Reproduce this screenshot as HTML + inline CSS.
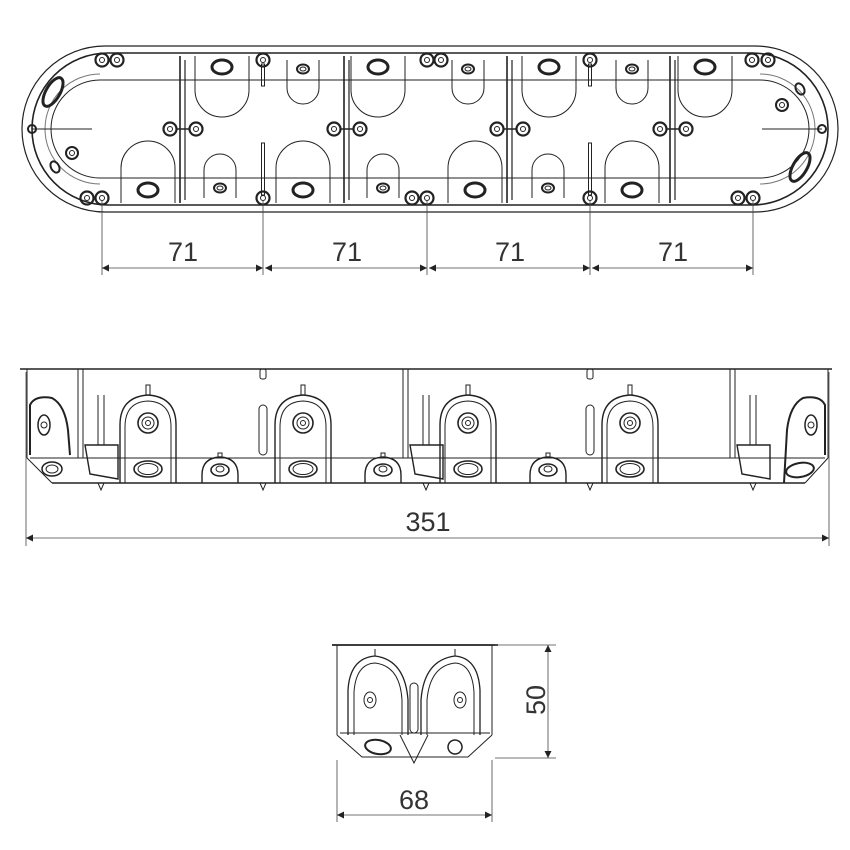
<!DOCTYPE html>
<html><head><meta charset="utf-8"><style>
html,body{margin:0;padding:0;background:#fff}
svg{display:block}
text{font-family:"Liberation Sans",Arial,sans-serif;fill:#333}
</style></head><body>
<svg id="s" width="850" height="850" viewBox="0 0 850 850" xmlns="http://www.w3.org/2000/svg">
<defs>
<marker id="a" viewBox="0 0 10 10" refX="10" refY="5" markerWidth="10" markerHeight="7" orient="auto-start-reverse" markerUnits="userSpaceOnUse"><path d="M0,0L10,5L0,10z" fill="#222"/></marker>
</defs>
<g fill="none" stroke="#222" stroke-width="1">
<path d="M105,46 L755,46 A83,83 0 0 1 755,212 L105,212 A83,83 0 0 1 105,46 Z" stroke-width="1.2"/>
<path d="M108,53 L752,53 A76,76 0 0 1 752,205 L108,205 A76,76 0 0 1 108,53 Z" stroke-width="1.6"/>
<line x1="100" y1="80" x2="760" y2="80"/>
<line x1="100" y1="178" x2="760" y2="178"/>
<path d="M100,80 A49,49 0 0 0 100,178"/>
<path d="M760,80 A49,49 0 0 1 760,178"/>
<path d="M100,74 A55,55 0 0 0 100,184" stroke="#777"/>
<path d="M760,74 A55,55 0 0 1 760,184" stroke="#777"/>
<line x1="32" y1="129" x2="92" y2="129"/>
<line x1="762" y1="129" x2="822" y2="129"/>
<ellipse cx="53" cy="92" rx="7" ry="16" transform="rotate(30 53 92)" stroke-width="3"/>
<ellipse cx="800" cy="167" rx="7" ry="16" transform="rotate(30 800 167)" stroke-width="3"/>
<circle cx="72" cy="153" r="6" stroke-width="2"/><circle cx="72" cy="153" r="2.5"/>
<ellipse cx="55" cy="167" rx="4" ry="6" transform="rotate(-30 55 167)" stroke-width="2"/>
<circle cx="782" cy="105" r="6" stroke-width="2"/><circle cx="782" cy="105" r="2.5"/>
<ellipse cx="800" cy="89" rx="4" ry="6" transform="rotate(-30 800 89)" stroke-width="2"/>
<circle cx="32" cy="129" r="4" stroke-width="2"/>
<circle cx="822" cy="129" r="4" stroke-width="2"/>
<g id="top"></g>
<g stroke="#444" stroke-width="0.8">
<line x1="102" y1="200" x2="102" y2="275"/><line x1="263" y1="200" x2="263" y2="275"/>
<line x1="427" y1="200" x2="427" y2="275"/><line x1="590" y1="200" x2="590" y2="275"/>
<line x1="753" y1="200" x2="753" y2="275"/>
<line x1="102" y1="268" x2="263" y2="268" marker-start="url(#a)" marker-end="url(#a)"/>
<line x1="265" y1="268" x2="427" y2="268" marker-start="url(#a)" marker-end="url(#a)"/>
<line x1="429" y1="268" x2="590" y2="268" marker-start="url(#a)" marker-end="url(#a)"/>
<line x1="592" y1="268" x2="753" y2="268" marker-start="url(#a)" marker-end="url(#a)"/>
</g>
<line x1="20" y1="369" x2="832" y2="369" stroke-width="1.6"/>
<line x1="27" y1="369" x2="27" y2="458"/>
<line x1="828" y1="369" x2="828" y2="458"/>
<line x1="30" y1="458" x2="825" y2="458"/>
<line x1="52" y1="483" x2="805" y2="483" stroke-width="1.4"/>
<path d="M27,458 L52,483 M828,458 L805,483"/>
<g id="side"></g>
<g stroke="#444" stroke-width="0.8">
<line x1="26" y1="372" x2="26" y2="546"/><line x1="829" y1="372" x2="829" y2="546"/>
<line x1="26" y1="538" x2="829" y2="538" marker-start="url(#a)" marker-end="url(#a)"/>
</g>
<line x1="332" y1="645" x2="498" y2="645" stroke-width="1.8"/>
<line x1="337" y1="645" x2="337" y2="735"/><line x1="492" y1="645" x2="492" y2="735"/>
<line x1="340" y1="733" x2="490" y2="733"/>
<path d="M337,735 L362,757 L468,757 L492,735"/>
<path d="M348,735 L348,690 Q350,658 375,656 Q405,660 408,700 L408,735" stroke-width="1.3"/>
<path d="M354,735 L354,692 Q356,664 375,663 Q400,666 402,700 L402,735"/>
<path d="M480,735 L480,690 Q478,658 455,656 Q424,660 421,700 L421,735" stroke-width="1.3"/>
<path d="M474,735 L474,692 Q472,664 455,663 Q430,666 427,700 L427,735"/>
<line x1="375" y1="649" x2="375" y2="656"/><line x1="455" y1="649" x2="455" y2="656"/>
<ellipse cx="370" cy="700" rx="6" ry="8"/><circle cx="370" cy="700" r="2.5"/>
<ellipse cx="460" cy="700" rx="6" ry="8"/><circle cx="460" cy="700" r="2.5"/>
<rect x="410" y="683" width="8" height="50" rx="4"/>
<path d="M400,735 L414,763 L428,735"/>
<ellipse cx="378" cy="747" rx="13" ry="7" transform="rotate(10 378 747)" stroke-width="2"/>
<ellipse cx="455" cy="747" rx="7" ry="7" transform="rotate(-20 455 747)" stroke-width="1.5"/>
<g stroke="#444" stroke-width="0.8">
<line x1="337" y1="760" x2="337" y2="822"/><line x1="492" y1="760" x2="492" y2="822"/>
<line x1="337" y1="815" x2="492" y2="815" marker-start="url(#a)" marker-end="url(#a)"/>
<line x1="495" y1="645" x2="556" y2="645"/><line x1="495" y1="758" x2="556" y2="758"/>
<line x1="548" y1="645" x2="548" y2="758" marker-start="url(#a)" marker-end="url(#a)"/>
</g>
</g>
<g font-size="27">
<text x="183" y="261" text-anchor="middle">71</text>
<text x="347" y="261" text-anchor="middle">71</text>
<text x="510" y="261" text-anchor="middle">71</text>
<text x="673" y="261" text-anchor="middle">71</text>
<text x="428" y="531" text-anchor="middle">351</text>
<text x="414" y="809" text-anchor="middle">68</text>
<text x="0" y="0" text-anchor="middle" transform="translate(545,700) rotate(-90)">50</text>
</g>
</svg>
<script>
var NS="http://www.w3.org/2000/svg";
function el(p,t,a){var e=document.createElementNS(NS,t);for(var k in a)e.setAttribute(k,a[k]);p.appendChild(e);return e;}
var T=document.getElementById('top');
function post(x,y){el(T,'circle',{cx:x,cy:y,r:6.5,'stroke-width':2.2});el(T,'circle',{cx:x,cy:y,r:2.5});}
[183,347,510,673].forEach(function(x){
 el(T,'line',{x1:x-3,y1:56,x2:x-3,y2:203,'stroke-width':1.6});
 el(T,'line',{x1:x+2,y1:60,x2:x+2,y2:200,'stroke-width':1.2});
 post(x-13,129);post(x+13,129);
 el(T,'line',{x1:x-7,y1:129,x2:x+7,y2:129,'stroke-width':1.5});
});
[263,590].forEach(function(x){post(x,60);});
[102,263,427,590,753].forEach(function(x){post(x,198);});
post(87,198);post(102,60);post(117,60);post(738,198);post(752,60);post(768,60);
post(412,198);post(427,60);post(441,60);
[263,590].forEach(function(x){el(T,'rect',{x:x-1.5,y:64,width:3,height:22});el(T,'rect',{x:x-1.5,y:143,width:3,height:52});});
function pocketTop(cx,big){
 if(big){el(T,'path',{d:'M'+(cx-27)+',56 L'+(cx-27)+',90 A27,27 0 0 0 '+(cx+27)+',90 L'+(cx+27)+',56'});
  el(T,'ellipse',{cx:cx,cy:67,rx:10,ry:7,'stroke-width':3});}
 else{el(T,'path',{d:'M'+(cx-16)+',60 L'+(cx-16)+',88 A16,16 0 0 0 '+(cx+16)+',88 L'+(cx+16)+',60'});
  el(T,'ellipse',{cx:cx,cy:69,rx:6,ry:4.5,'stroke-width':2});el(T,'ellipse',{cx:cx,cy:69,rx:3,ry:2});}
}
function pocketBot(cx,big){
 if(big){el(T,'path',{d:'M'+(cx-27)+',203 L'+(cx-27)+',168 A27,27 0 0 1 '+(cx+27)+',168 L'+(cx+27)+',203'});
  el(T,'ellipse',{cx:cx,cy:190,rx:10,ry:7,'stroke-width':3});}
 else{el(T,'path',{d:'M'+(cx-16)+',198 L'+(cx-16)+',170 A16,16 0 0 1 '+(cx+16)+',170 L'+(cx+16)+',198'});
  el(T,'ellipse',{cx:cx,cy:188,rx:6,ry:4.5,'stroke-width':2});el(T,'ellipse',{cx:cx,cy:188,rx:3,ry:2});}
}
pocketTop(222,true);pocketTop(378,true);pocketTop(549,true);pocketTop(705,true);
pocketTop(303,false);pocketTop(468,false);pocketTop(632,false);
pocketBot(148,true);pocketBot(303,true);pocketBot(475,true);pocketBot(632,true);
pocketBot(220,false);pocketBot(383,false);pocketBot(548,false);
var S=document.getElementById('side');
function arch(cx){
 el(S,'path',{d:'M'+(cx-28)+',483 L'+(cx-28)+',425 Q'+(cx-28)+',397 '+cx+',395 Q'+(cx+28)+',397 '+(cx+28)+',425 L'+(cx+28)+',483','stroke-width':1.4});
 el(S,'path',{d:'M'+(cx-23)+',483 L'+(cx-23)+',427 Q'+(cx-23)+',402 '+cx+',401 Q'+(cx+23)+',402 '+(cx+23)+',427 L'+(cx+23)+',483'});
 el(S,'path',{d:'M'+(cx-2)+',395 L'+(cx-2)+',385 L'+(cx+2)+',385 L'+(cx+2)+',395'});
 el(S,'circle',{cx:cx,cy:423,r:10,'stroke-width':1.6});el(S,'circle',{cx:cx,cy:423,r:6});el(S,'circle',{cx:cx,cy:423,r:2.5});
 el(S,'ellipse',{cx:cx,cy:469,rx:14,ry:8,'stroke-width':1.6});el(S,'ellipse',{cx:cx,cy:469,rx:10,ry:5.5});
}
[148,303,468,630].forEach(arch);
function small(cx){
 el(S,'path',{d:'M'+(cx-18)+',483 L'+(cx-18)+',475 Q'+(cx-18)+',458 '+cx+',457 Q'+(cx+18)+',458 '+(cx+18)+',475 L'+(cx+18)+',483','stroke-width':1.4});
 el(S,'path',{d:'M'+(cx-2)+',457 L'+(cx-2)+',453 L'+(cx+2)+',453 L'+(cx+2)+',457'});
 el(S,'ellipse',{cx:cx,cy:470,rx:9,ry:6,'stroke-width':1.6});el(S,'ellipse',{cx:cx,cy:469,rx:4,ry:3});
}
[220,383,548].forEach(small);
function clip(x){
 el(S,'line',{x1:x-22,y1:369,x2:x-22,y2:458});el(S,'line',{x1:x-17,y1:369,x2:x-17,y2:458});
 el(S,'line',{x1:x-2,y1:395,x2:x-2,y2:445});el(S,'line',{x1:x+4,y1:395,x2:x+4,y2:445});
 el(S,'path',{d:'M'+(x-15)+',445 L'+(x+18)+',445 L'+(x+18)+',479 L'+(x-10)+',474 Z','stroke-width':1.4});
 el(S,'path',{d:'M'+(x-2)+',483 L'+(x+1)+',490 L'+(x+4)+',483'});
}
clip(100);clip(425);clip(752);
[263,590].forEach(function(x){el(S,'rect',{x:x-4,y:405,width:8,height:50,rx:4});el(S,'path',{d:'M'+(x-3)+',483 L'+x+',490 L'+(x+3)+',483'});el(S,'rect',{x:x-3,y:369,width:6,height:10,rx:2});});
el(S,'path',{d:'M30,455 L30,405 Q35,395 52,398 Q65,405 68,430 L70,455','stroke-width':2});
el(S,'ellipse',{cx:44,cy:425,rx:6,ry:10,'stroke-width':1.5});el(S,'circle',{cx:44,cy:425,r:3});
el(S,'ellipse',{cx:52,cy:469,rx:10,ry:7,'stroke-width':1.5});el(S,'ellipse',{cx:52,cy:469,rx:6,ry:4});
el(S,'path',{d:'M825,455 L825,405 Q820,395 803,398 Q790,405 787,430 L784,483','stroke-width':2});
el(S,'ellipse',{cx:811,cy:425,rx:6,ry:10,'stroke-width':1.5});el(S,'circle',{cx:811,cy:425,r:3});
el(S,'ellipse',{cx:800,cy:470,rx:14,ry:7,transform:'rotate(-10 800 470)','stroke-width':2});
</script>
</body></html>
